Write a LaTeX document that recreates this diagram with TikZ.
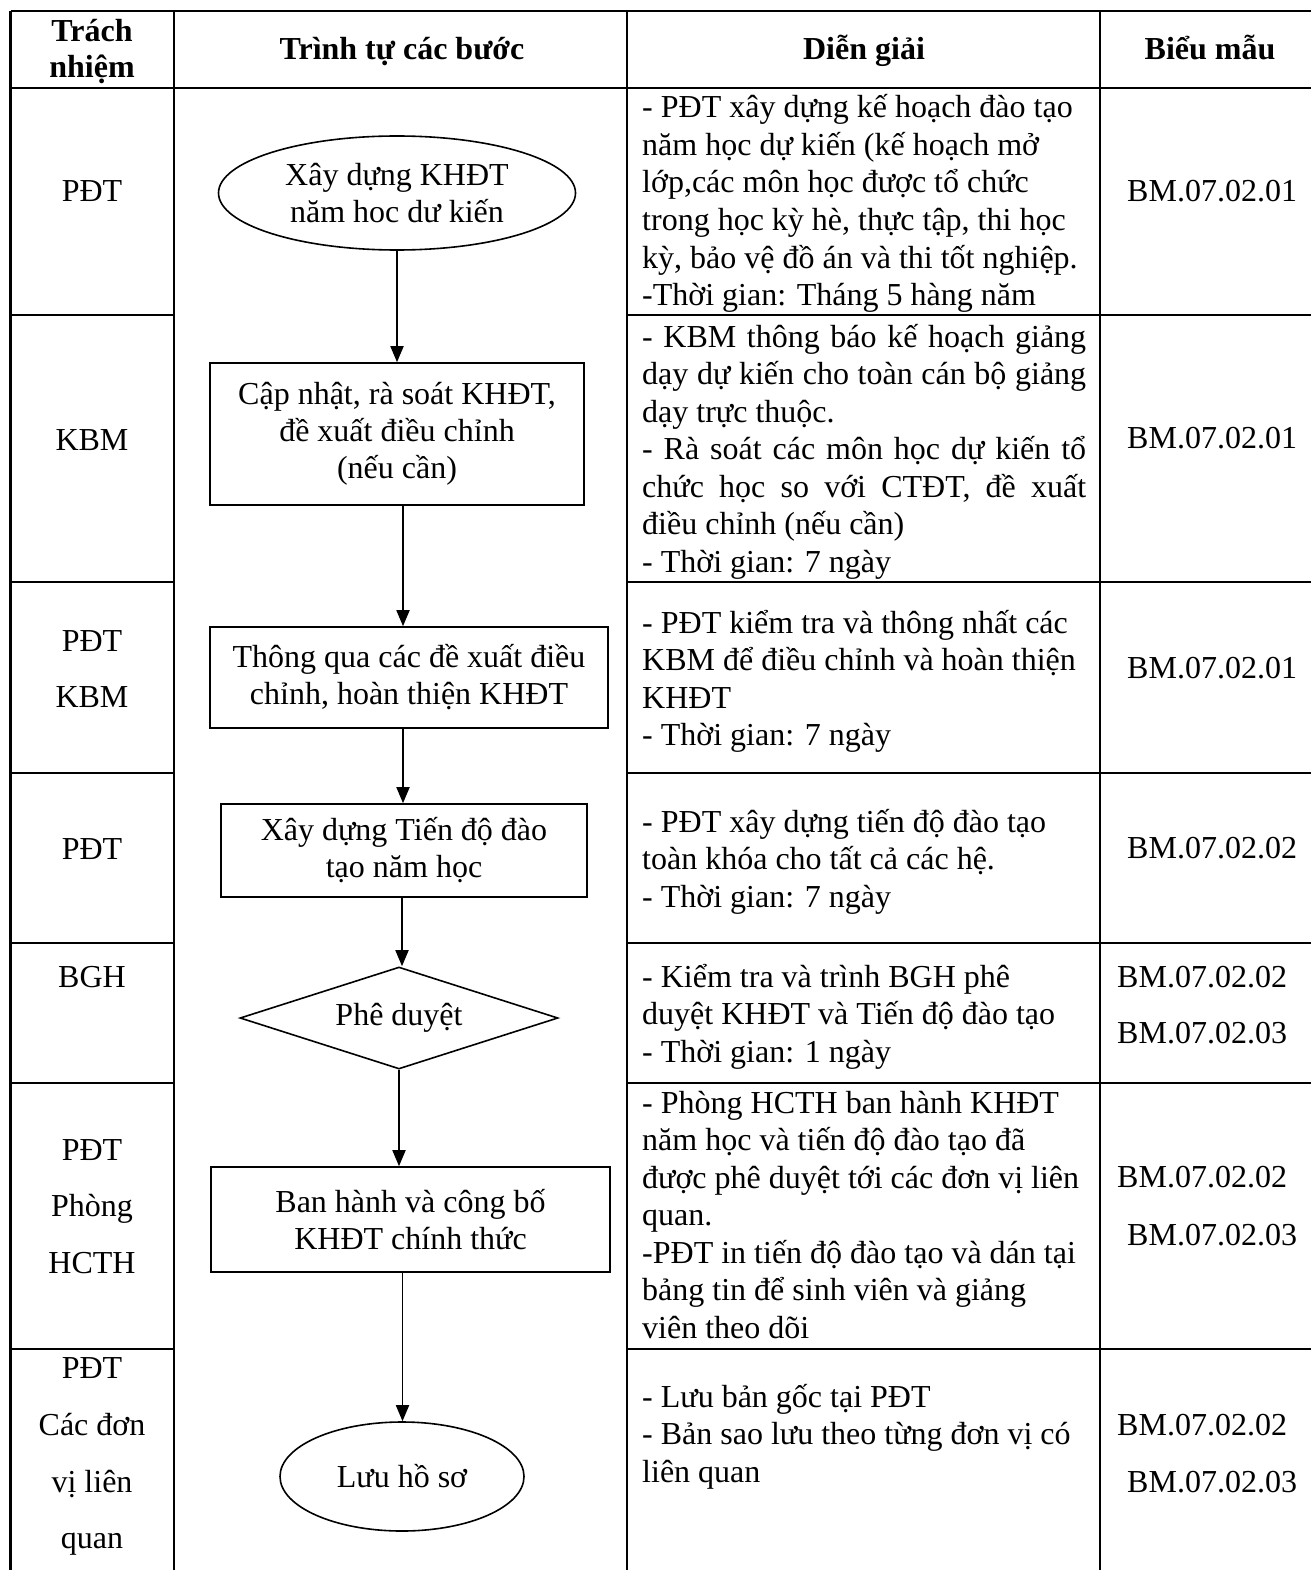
\documentclass[tikz,border=0pt]{standalone}
\usepackage{fontspec}
\setmainfont{Liberation Serif}
\usetikzlibrary{shapes.geometric,arrows.meta}
\tikzset{
  tbl/.style={line width=2.2pt},
  shp/.style={draw, line width=1.6pt, inner sep=0pt, align=center, font=\fontsize{32pt}{37pt}\selectfont},
  txt/.style={inner sep=0pt, font=\fontsize{32pt}{37.5pt}\selectfont},
  hdr/.style={inner sep=0pt, font=\fontsize{32pt}{37pt}\selectfont\bfseries},
  arr/.style={line width=1.8pt, -{Triangle[length=16pt,width=13pt]}}
}
\newcommand\celllines[4]{%
  \foreach \t [count=\i] in {#4} {\node[txt, anchor=base west] (#1\i) at (#2, #3+37.5*\i-37.5) {\t};}}
\newcommand\jl[1]{\makebox[444pt][s]{#1}}
\begin{document}
\begin{tikzpicture}[x=1pt, y=-1pt]
\useasboundingbox (0,0) rectangle (1311,1570);
% table frame
\draw[tbl] (10.5,11) -- (1311,11);
\draw[tbl] (10.5,88) -- (1311,88);
\foreach \xx in {10.5,174,627,1100} \draw[tbl] (\xx,11) -- (\xx,1570);
\foreach \yy in {315,582,773,943,1083,1349} {
  \draw[tbl] (10.5,\yy) -- (174,\yy);
  \draw[tbl] (627,\yy) -- (1311,\yy);
}
% header
\node[hdr, anchor=base] (h1a) at (92,42) {Trách};
\node[hdr, anchor=base] (h1b) at (92,78) {nhiệm};
\node[hdr, anchor=base] (h2) at (402,60) {Trình tự các bước};
\node[hdr, anchor=base] (h3) at (864,60) {Diễn giải};
\node[hdr, anchor=base] (h4) at (1210,60) {Biểu mẫu};
% column 1
\node[txt, anchor=base] (c1) at (92,202) {PĐT};
\node[txt, anchor=base] (c2) at (92,450) {KBM};
\node[txt, anchor=base] (c3a) at (92,651) {PĐT};
\node[txt, anchor=base] (c3b) at (92,707) {KBM};
\node[txt, anchor=base] (c4) at (92,859) {PĐT};
\node[txt, anchor=base] (c5) at (92,987) {BGH};
\node[txt, anchor=base] (c6a) at (92,1160) {PĐT};
\node[txt, anchor=base] (c6b) at (92,1216) {Phòng};
\node[txt, anchor=base] (c6c) at (92,1273) {HCTH};
\node[txt, anchor=base] (c7a) at (92,1378) {PĐT};
\node[txt, anchor=base] (c7b) at (92,1435) {Các đơn};
\node[txt, anchor=base] (c7c) at (92,1492) {vị liên};
\node[txt, anchor=base] (c7d) at (92,1548) {quan};
% flow
\node[shp, ellipse, minimum width=357pt, minimum height=114pt] (s1) at (397,193) {Xây dựng KHĐT\\năm hoc dư kiến};
\node[shp, rectangle, minimum width=374pt, minimum height=142pt] (s2) at (397,434) {Cập nhật, rà soát KHĐT,\\đề xuất điều chỉnh\\(nếu cần)};
\node[shp, rectangle, minimum width=398pt, minimum height=101pt] (s3) at (409,677.5) {Thông qua các đề xuất điều\\chỉnh, hoàn thiện KHĐT};
\node[shp, rectangle, minimum width=366pt, minimum height=93pt] (s4) at (404,850.5) {Xây dựng Tiến độ đào\\tạo năm học};
\node[shp, diamond, aspect=3.1, minimum width=318pt, minimum height=102pt] (s5) at (399,1018) {Phê duyệt};
\node[shp, rectangle, minimum width=399pt, minimum height=105pt] (s6) at (410.5,1219.5) {Ban hành và công bố\\KHĐT chính thức};
\node[shp, ellipse, minimum width=244pt, minimum height=109pt] (s7) at (402,1476.5) {Lưu hồ sơ};
\draw[arr] (s1.south) -- (s1.south |- s2.north);
\draw[arr] ([xshift=6pt]s2.south) -- ([xshift=6pt]s2.south |- s3.north);
\draw[arr] ([xshift=-6pt]s3.south) -- ([xshift=-6pt]s3.south |- s4.north);
\draw[arr] ([xshift=-2pt]s4.south) -- ([xshift=-2pt]s4.south |- s5.north);
\draw[arr] (s5.south) -- (s5.south |- s6.north);
\draw[arr] ([xshift=-8pt]s6.south) -- ([xshift=-8pt]s6.south |- s7.north);
% column 3
\celllines{d1}{642}{118}{{- PĐT xây dựng kế hoạch đào tạo},{năm học dự kiến (kế hoạch mở},{lớp,các môn học được tổ chức},{trong học kỳ hè, thực tập, thi học},{kỳ, bảo vệ đồ án và thi tốt nghiệp.},{-Thời gian: Tháng 5 hàng năm}}
\celllines{d2}{642}{347}{{\jl{- KBM thông báo kế hoạch giảng}},{\jl{dạy dự kiến cho toàn cán bộ giảng}},{dạy trực thuộc.},{\jl{- Rà soát các môn học dự kiến tổ}},{\jl{chức học so với CTĐT, đề xuất}},{điều chỉnh (nếu cần)},{- Thời gian: 7 ngày}}
\celllines{d3}{642}{633}{{- PĐT kiểm tra và thông nhất các},{KBM để điều chỉnh và hoàn thiện},{KHĐT},{- Thời gian: 7 ngày}}
\celllines{d4}{642}{832}{{- PĐT xây dựng tiến độ đào tạo},{toàn khóa cho tất cả các hệ.},{- Thời gian: 7 ngày}}
\celllines{d5}{642}{987}{{- Kiểm tra và trình BGH phê},{duyệt KHĐT và Tiến độ đào tạo},{- Thời gian: 1 ngày}}
\celllines{d6}{642}{1113}{{- Phòng HCTH ban hành KHĐT},{năm học và tiến độ đào tạo đã},{được phê duyệt tới các đơn vị liên},{quan.},{-PĐT in tiến độ đào tạo và dán tại},{bảng tin để sinh viên và giảng},{viên theo dõi}}
\celllines{d7}{642}{1407}{{- Lưu bản gốc tại PĐT},{- Bản sao lưu theo từng đơn vị có},{liên quan}}
% column 4
\node[txt, anchor=base west] (f1) at (1127,202) {BM.07.02.01};
\node[txt, anchor=base west] (f2) at (1127,448) {BM.07.02.01};
\node[txt, anchor=base west] (f3) at (1127,678) {BM.07.02.01};
\node[txt, anchor=base west] (f4) at (1127,858) {BM.07.02.02};
\node[txt, anchor=base west] (f5a) at (1117,987) {BM.07.02.02};
\node[txt, anchor=base west] (f5b) at (1117,1043) {BM.07.02.03};
\node[txt, anchor=base west] (f6a) at (1117,1187) {BM.07.02.02};
\node[txt, anchor=base west] (f6b) at (1127,1245) {BM.07.02.03};
\node[txt, anchor=base west] (f7a) at (1117,1435) {BM.07.02.02};
\node[txt, anchor=base west] (f7b) at (1127,1492) {BM.07.02.03};
\end{tikzpicture}
\end{document}
